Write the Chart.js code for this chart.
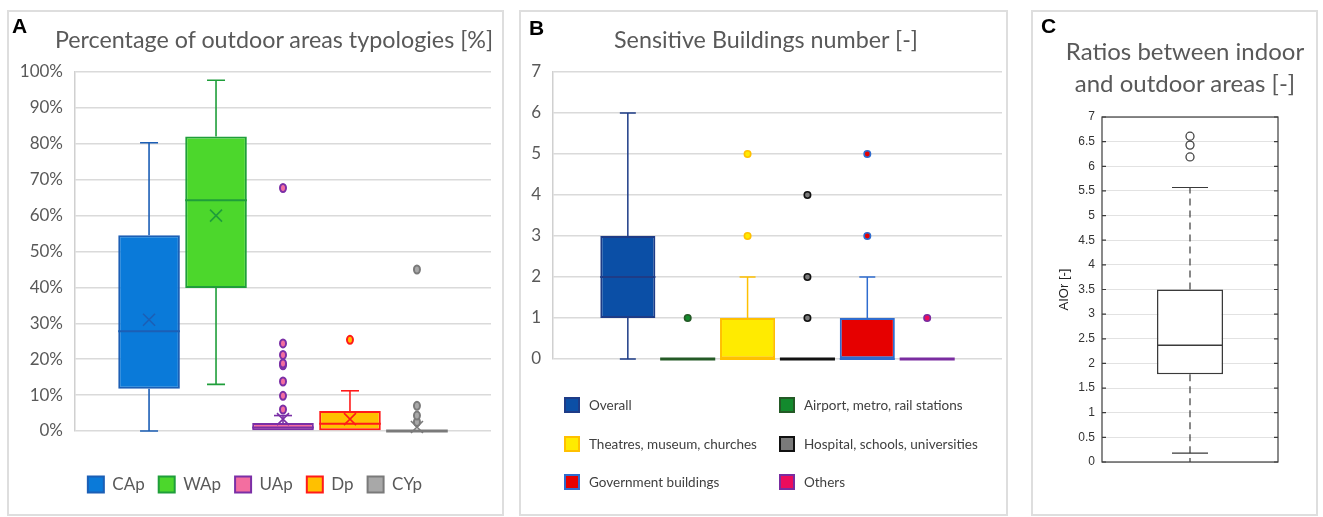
<!DOCTYPE html>
<html>
<head>
<meta charset="utf-8">
<script src="https://cdn.jsdelivr.net/npm/chart.js@4.4.1/dist/chart.umd.min.js"></script>
<style>
  body { margin: 0; background: #fff; width: 1323px; height: 517px; position: relative; overflow: hidden; font-family: Lato, sans-serif; }
  .panel { position: absolute; border: 2px solid #dedede; box-sizing: border-box; }
  .panel canvas { position: absolute; left: 0; top: 0; }
  .letter { position: absolute; font: bold 21px/21px "Liberation Sans", Arial, sans-serif; color: #000; }
  .title { position: absolute; color: #595959; text-align: center; white-space: nowrap; }
  .legend-item { position: absolute; height: 16px; display: flex; align-items: center; font-size: 13.5px; color: #404040; white-space: nowrap; }
  .legend-item span.sw { width: 12px; height: 12px; border: 2px solid; margin-right: 9px; }
</style>
</head>
<body>

<div class="panel" style="left:7px; top:10px; width:497px; height:506px;"><canvas id="chartA" width="493" height="502"></canvas></div>
<div class="panel" style="left:519px; top:10px; width:489px; height:506px;"><canvas id="chartB" width="485" height="502"></canvas></div>
<div class="panel" style="left:1031px; top:10px; width:287px; height:506px;"><canvas id="chartC" width="283" height="502"></canvas></div>

<div class="letter" style="left:12px; top:15px;">A</div>
<div class="letter" style="left:529px; top:17px;">B</div>
<div class="letter" style="left:1041px; top:15px;">C</div>

<div class="title" style="left:24px; width:500px; top:25px; font-size:23.3px; line-height:28px;">Percentage of outdoor areas typologies [%]</div>
<div class="title" style="left:516px; width:500px; top:25px; font-size:23.3px; line-height:28px;">Sensitive Buildings number [-]</div>
<div class="title" style="left:1035px; width:300px; top:35px; font-size:24px; line-height:32px;">Ratios between indoor<br>and outdoor areas [-]</div>

<div id="legendB"></div>

<script>
// A - share of each outdoor area typology per case (%)
const typologies   = ['CAp', 'WAp', 'UAp', 'Dp', 'CYp'];
const typoMin      = [0, 13.0, 0, 0, 0];
const typoQ1       = [11.8, 39.8, 0, 0, 0];
const typoMedian   = [27.8, 64.3, 1.0, 2.0, 0];
const typoQ3       = [54.5, 82.0, 2.2, 5.6, 0];
const typoMax      = [80.3, 97.7, 4.3, 11.2, 0];
const typoMean     = [31.0, 60.0, 3.3, 3.3, 1.1];
const typoOutliers = [[], [], [6.0, 9.8, 13.8, 18.3, 18.8, 21.2, 24.4, 67.7], [25.4], [2.5, 4.3, 7.0, 45.0]];
const typoFill     = ['#0a7ad9', '#4cd72c', '#f36ea0', '#ffc000', '#a8a8a8'];
const typoLine     = ['#1c5fb5', '#1f9e3a', '#7b2fa6', '#ff1a1a', '#7a7a7a'];

// B - number of sensitive buildings by type
const buildingTypes = ['Overall', 'Airport, metro, rail stations', 'Theatres, museum, churches',
                       'Hospital, schools, universities', 'Government buildings', 'Others'];
const bldMin      = [0, 0, 0, 0, 0, 0];
const bldQ1       = [1, 0, 0, 0, 0, 0];
const bldMedian   = [2, 0, 0, 0, 0, 0];
const bldQ3       = [3, 0, 1, 0, 1, 0];
const bldMax      = [6, 0, 2, 0, 2, 0];
const bldOutliers = [[], [1], [3, 5], [1, 2, 4], [3, 5], [1]];
const bldFill     = ['#0b4fa6', '#138a2d', '#ffeb00', '#7a7a7a', '#e60000', '#ec0c5c'];
const bldLine     = ['#1e3c87', '#245a26', '#ffc000', '#111111', '#2f6ccf', '#7a2ca0'];

// C - indoor / outdoor area ratio (AIOr): min, q1, median, q3, max
const aiorBox      = [0.18, 1.78, 2.37, 3.5, 5.57];
const aiorOutliers = [6.19, 6.43, 6.61];

Chart.defaults.font.family = 'Lato, sans-serif';
Chart.defaults.animation = false;
Chart.defaults.plugins.tooltip.enabled = false;

// whiskers, medians, means and outliers on top of the floating bars
const boxWhiskers = {
  id: 'boxWhiskers',
  afterDatasetsDraw(chart) {
    const ctx = chart.ctx;
    const y = chart.scales.y;
    chart.data.datasets.forEach((ds, i) => {
      const b = ds.box;
      if (!b) return;
      const bar = chart.getDatasetMeta(i).data[0];
      const x = bar.x, hw = bar.width / 2, cw = b.cap / 2;
      ctx.save();
      ctx.strokeStyle = b.color;
      ctx.lineWidth = b.whiskerWidth;
      ctx.setLineDash(b.dash || []);
      ctx.beginPath();
      if (b.max > b.q3) { ctx.moveTo(x, y.getPixelForValue(b.q3)); ctx.lineTo(x, y.getPixelForValue(b.max)); }
      if (b.min < b.q1) { ctx.moveTo(x, y.getPixelForValue(b.q1)); ctx.lineTo(x, y.getPixelForValue(b.min)); }
      ctx.stroke();
      ctx.setLineDash([]);
      ctx.beginPath();
      if (b.max > b.q3) { const p = y.getPixelForValue(b.max); ctx.moveTo(x - cw, p); ctx.lineTo(x + cw, p); }
      if (b.min < b.q1) { const p = y.getPixelForValue(b.min); ctx.moveTo(x - cw, p); ctx.lineTo(x + cw, p); }
      ctx.stroke();

      // median (a flat box collapses to a thick line)
      ctx.lineWidth = b.q1 === b.q3 ? 3 : b.medianWidth;
      const pm = y.getPixelForValue(b.median);
      ctx.beginPath(); ctx.moveTo(x - hw, pm); ctx.lineTo(x + hw, pm); ctx.stroke();

      if (b.mean != null) {
        const py = y.getPixelForValue(b.mean), s = 6;
        ctx.lineWidth = 1.6;
        ctx.beginPath();
        ctx.moveTo(x - s, py - s); ctx.lineTo(x + s, py + s);
        ctx.moveTo(x + s, py - s); ctx.lineTo(x - s, py + s);
        ctx.stroke();
      }

      b.outliers.forEach(v => {
        ctx.beginPath();
        ctx.ellipse(x, y.getPixelForValue(v), b.rx, b.ry, 0, 0, 2 * Math.PI);
        if (b.dotFill) { ctx.fillStyle = b.dotFill; ctx.fill(); }
        ctx.lineWidth = b.dotLine;
        ctx.strokeStyle = b.dotStroke;
        ctx.stroke();
      });
      ctx.restore();
    });
  }
};

// A
new Chart(document.getElementById('chartA'), {
  type: 'bar',
  data: {
    labels: ['Outdoor areas'],
    datasets: typologies.map((name, i) => ({
      label: name,
      data: [[typoQ1[i], typoQ3[i]]],
      backgroundColor: typoFill[i],
      borderColor: typoLine[i],
      borderWidth: 2,
      borderSkipped: false,
      categoryPercentage: 0.805,
      barPercentage: 0.92,
      box: {
        min: typoMin[i], q1: typoQ1[i], median: typoMedian[i], q3: typoQ3[i], max: typoMax[i],
        mean: typoMean[i], outliers: typoOutliers[i],
        color: typoLine[i], whiskerWidth: 1.6, medianWidth: 2, cap: 18,
        rx: 3, ry: 4, dotFill: typoFill[i], dotStroke: typoLine[i], dotLine: 2
      }
    }))
  },
  options: {
    responsive: false,
    layout: { padding: { left: 10, right: 11, top: 60, bottom: 11 } },
    scales: {
      y: {
        min: 0, max: 100,
        ticks: { stepSize: 10, callback: v => v + '%', color: '#595959', font: { size: 17 }, padding: 12 },
        grid: { color: '#dadada', lineWidth: 1.5, drawTicks: false },
        border: { display: true, color: '#d0d0d0', width: 1.5 },
        afterFit: s => { s.width = 56; }
      },
      x: {
        ticks: { display: false },
        grid: { display: false },
        border: { display: false },
        afterFit: s => { s.height = 31; }
      }
    },
    plugins: {
      legend: {
        position: 'bottom',
        labels: { boxWidth: 16, boxHeight: 16, padding: 14, color: '#595959', font: { size: 17 } }
      }
    }
  },
  plugins: [boxWhiskers]
});

// B
const chartB = new Chart(document.getElementById('chartB'), {
  type: 'bar',
  data: {
    labels: ['Sensitive buildings'],
    datasets: buildingTypes.map((name, i) => ({
      label: name,
      data: [[bldQ1[i], bldQ3[i]]],
      backgroundColor: bldFill[i],
      borderColor: bldLine[i],
      borderWidth: 2,
      borderSkipped: false,
      categoryPercentage: 0.80,
      barPercentage: 0.92,
      box: {
        min: bldMin[i], q1: bldQ1[i], median: bldMedian[i], q3: bldQ3[i], max: bldMax[i],
        mean: null, outliers: bldOutliers[i],
        color: bldLine[i], whiskerWidth: 1.5, medianWidth: 1.8, cap: 16,
        rx: 3.2, ry: 3.2, dotFill: bldFill[i], dotStroke: bldLine[i], dotLine: 1.6
      }
    }))
  },
  options: {
    responsive: false,
    layout: { padding: { left: 0, right: 4, top: 60, bottom: 155 } },
    scales: {
      y: {
        min: 0, max: 7,
        ticks: { stepSize: 1, color: '#595959', font: { size: 17 }, padding: 12 },
        grid: { color: '#dadada', lineWidth: 1.5, drawTicks: false },
        border: { display: true, color: '#d0d0d0', width: 1.5 },
        afterFit: s => { s.width = 32; }
      },
      x: { display: false }
    },
    plugins: { legend: { display: false } }
  },
  plugins: [boxWhiskers]
});

// legend for B in two columns, built from the chart's datasets
const legendB = document.getElementById('legendB');
chartB.data.datasets.forEach((ds, i) => {
  const item = document.createElement('div');
  item.className = 'legend-item';
  item.style.left = (i % 2 === 0 ? 564 : 779) + 'px';
  item.style.top = (397 + Math.floor(i / 2) * 38.5) + 'px';
  const sw = document.createElement('span');
  sw.className = 'sw';
  sw.style.background = ds.backgroundColor;
  sw.style.borderColor = ds.borderColor;
  item.appendChild(sw);
  item.appendChild(document.createTextNode(ds.label));
  legendB.appendChild(item);
});

// frame with inward ticks around the plot area of C
const axesFrame = {
  id: 'axesFrame',
  afterDraw(chart) {
    const { ctx, chartArea: a } = chart;
    const y = chart.scales.y;
    ctx.save();
    ctx.strokeStyle = '#3c3c3c';
    ctx.lineWidth = 1.2;
    ctx.strokeRect(a.left, a.top, a.right - a.left, a.bottom - a.top);
    ctx.beginPath();
    y.ticks.forEach(t => {
      const p = y.getPixelForValue(t.value);
      ctx.moveTo(a.left, p); ctx.lineTo(a.left + 4, p);
      ctx.moveTo(a.right, p); ctx.lineTo(a.right - 4, p);
    });
    const cx = (a.left + a.right) / 2;
    ctx.moveTo(cx, a.bottom); ctx.lineTo(cx, a.bottom - 4);
    ctx.stroke();
    ctx.restore();
  }
};

// C
new Chart(document.getElementById('chartC'), {
  type: 'bar',
  data: {
    labels: ['AIOr'],
    datasets: [{
      label: 'AIOr',
      data: [[aiorBox[1], aiorBox[3]]],
      backgroundColor: '#ffffff',
      borderColor: '#3a3a3a',
      borderWidth: 1.5,
      borderSkipped: false,
      categoryPercentage: 1,
      barPercentage: 0.375,
      box: {
        min: aiorBox[0], q1: aiorBox[1], median: aiorBox[2], q3: aiorBox[3], max: aiorBox[4],
        mean: null, outliers: aiorOutliers,
        color: '#3a3a3a', whiskerWidth: 1.2, medianWidth: 1.5, cap: 36, dash: [7, 5],
        rx: 4, ry: 4, dotFill: null, dotStroke: '#444444', dotLine: 1.3
      }
    }]
  },
  options: {
    responsive: false,
    layout: { padding: { left: 20, right: 38, top: 105, bottom: 52 } },
    scales: {
      y: {
        min: 0, max: 7,
        ticks: { stepSize: 0.5, callback: v => String(v), color: '#333333',
                 font: { family: '"Liberation Sans", Arial, sans-serif', size: 12 }, padding: 7 },
        grid: { color: '#e2e2e2', lineWidth: 1, drawTicks: false },
        border: { display: false },
        title: { display: true, text: 'AIOr [-]', color: '#222222', padding: { top: 4, bottom: 0 },
                 font: { family: '"Liberation Sans", Arial, sans-serif', size: 13 } },
        afterFit: s => { s.width = 49; }
      },
      x: { display: false }
    },
    plugins: { legend: { display: false } }
  },
  plugins: [boxWhiskers, axesFrame]
});
</script>
</body>
</html>
